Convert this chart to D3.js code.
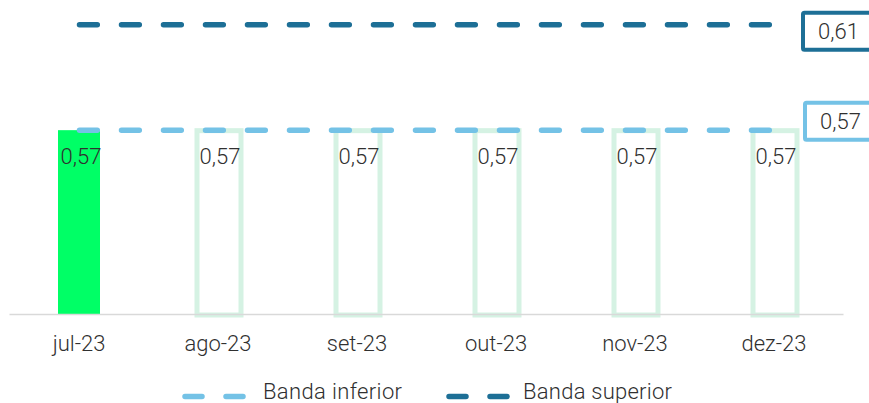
<!DOCTYPE html>
<html>
<head>
<meta charset="utf-8">
<script src="https://cdn.jsdelivr.net/npm/d3@7"></script>
<style>
  html, body { margin: 0; padding: 0; background: #fff; }
  svg { display: block; font-family: Roboto, "Open Sans", sans-serif; font-weight: 300; }
</style>
</head>
<body>
<svg id="chart" width="869" height="403"></svg>
<script>
// Monthly values
const months = ["jul-23", "ago-23", "set-23", "out-23", "nov-23", "dez-23"];
const realizado = [0.57, 0.57, 0.57, 0.57, 0.57, 0.57];
const bandaInferior = [0.57, 0.57, 0.57, 0.57, 0.57, 0.57];
const bandaSuperior = [0.61, 0.61, 0.61, 0.61, 0.61, 0.61];
const filled = [true, false, false, false, false, false];

const fmt = v => d3.format(".2f")(v).replace(".", ",");

const svg = d3.select("#chart");
const colLower = "#74C2E6";
const colUpper = "#1D6F96";
const colBar = "#00FF66";
const colBarOutline = "#D5F2E3";
const textCol = "#303030";
const fs = 22;

const x = d3.scaleBand().domain(months).range([9.5, 843.5]).padding(0);
const y = d3.scaleLinear().domain([0.50, 0.62]).range([314.5, -1.5]);
const barW = 42;
const cx = m => x(m) + x.bandwidth() / 2;

// Bars: the current month filled, the remaining months outlined
const bars = svg.append("g");
months.forEach((m, i) => {
  if (filled[i]) {
    bars.append("rect")
      .attr("x", cx(m) - barW / 2).attr("y", y(realizado[i]))
      .attr("width", barW).attr("height", y(0.50) - y(realizado[i]))
      .attr("fill", colBar);
  } else {
    bars.append("rect")
      .attr("x", cx(m) - barW / 2).attr("y", y(realizado[i]) + 0.5)
      .attr("width", barW + 2).attr("height", y(0.50) - y(realizado[i]))
      .attr("fill", "none").attr("stroke", colBarOutline).attr("stroke-width", 5);
  }
});

// Category axis line
svg.append("line")
  .attr("x1", 9.5).attr("x2", 843.5)
  .attr("y1", y(0.50)).attr("y2", y(0.50))
  .attr("stroke", "#D9D9D9").attr("stroke-width", 1.5);

// Category labels
const xAxis = d3.axisBottom(x).tickSize(0).tickPadding(0);
const gx = svg.append("g").attr("transform", `translate(0,351)`).call(xAxis);
gx.select(".domain").remove();
gx.selectAll("text")
  .attr("font-family", "Roboto, sans-serif").attr("font-weight", 300)
  .attr("font-size", fs).attr("fill", textCol).attr("dy", 0).attr("y", 0);

// Band lines
const line = d3.line()
  .x((d, i) => cx(months[i]))
  .y(d => y(d));

function bandLine(data, color) {
  svg.append("path")
    .attr("d", line(data))
    .attr("fill", "none").attr("stroke", color)
    .attr("stroke-width", 5.5).attr("stroke-linecap", "round")
    .attr("stroke-dasharray", "17.8 24.2")
    .attr("transform", "translate(0.5,0)");
}
bandLine(bandaInferior, colLower);
bandLine(bandaSuperior, colUpper);

// Bar value labels
svg.append("g").selectAll("text").data(realizado).join("text")
  .attr("x", (d, i) => cx(months[i]) + 2)
  .attr("y", d => y(d) + 34)
  .attr("text-anchor", "middle")
  .attr("font-size", fs).attr("fill", textCol)
  .text(d => fmt(d));

// End-of-line value boxes
function endBox(val, color, bx, by, bh) {
  const g = svg.append("g");
  g.append("rect")
    .attr("x", bx).attr("y", by).attr("width", 90).attr("height", bh)
    .attr("fill", "#fff").attr("stroke", color).attr("stroke-width", 4)
    .attr("rx", 1.5);
  g.append("text")
    .attr("x", bx + 15).attr("y", by + bh / 2 + 8)
    .attr("font-size", fs).attr("fill", textCol)
    .text(fmt(val));
}
const last = months.length - 1;
endBox(bandaSuperior[last], colUpper, 803, y(bandaSuperior[last]) - 12, 37);
endBox(bandaInferior[last], colLower, 805, y(bandaInferior[last]) - 27.5, 37);

// Legend
const legend = svg.append("g");
const items = [
  { label: "Banda inferior", color: colLower, x: 182, tx: 263 },
  { label: "Banda superior", color: colUpper, x: 446, tx: 523 }
];
items.forEach(it => {
  legend.append("line")
    .attr("x1", it.x + 3).attr("x2", it.x + 62)
    .attr("y1", 396.5).attr("y2", 396.5)
    .attr("stroke", it.color).attr("stroke-width", 5.5)
    .attr("stroke-linecap", "round").attr("stroke-dasharray", "17 24");
  legend.append("text")
    .attr("x", it.tx).attr("y", 398.5)
    .attr("font-size", fs).attr("fill", textCol)
    .attr("textLength", it.label === "Banda inferior" ? 139 : 149)
    .text(it.label);
});
</script>
</body>
</html>
